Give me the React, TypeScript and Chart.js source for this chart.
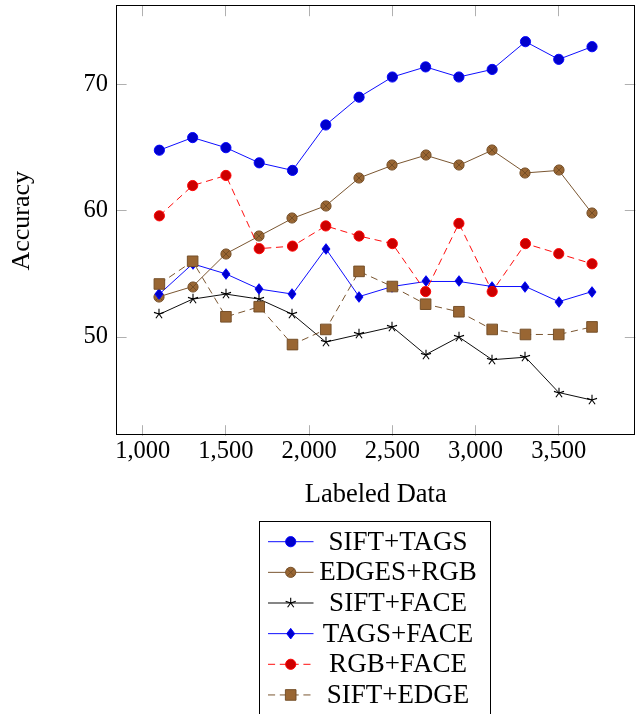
import { useEffect, useRef } from 'react';
import { Chart, registerables } from 'chart.js';

Chart.register(...registerables);

// ---- data ----
const labeledData = [1100, 1300, 1500, 1700, 1900, 2100, 2300, 2500, 2700, 2900, 3100, 3300, 3500, 3700];
const siftTags = [64.8, 65.8, 65.0, 63.8, 63.2, 66.8, 69.0, 70.6, 71.4, 70.6, 71.2, 73.4, 72.0, 73.0];
const edgesRgb = [53.2, 54.0, 56.6, 58.0, 59.4, 60.4, 62.6, 63.6, 64.4, 63.6, 64.8, 63.0, 63.2, 59.8];
const siftFace = [51.8, 53.0, 53.4, 53.0, 51.8, 49.6, 50.2, 50.8, 48.6, 50.0, 48.2, 48.4, 45.6, 45.0];
const tagsFace = [53.4, 55.8, 55.0, 53.8, 53.4, 57.0, 53.2, 54.0, 54.4, 54.4, 54.0, 54.0, 52.8, 53.6];
const rgbFace = [59.6, 62.0, 62.8, 57.0, 57.2, 58.8, 58.0, 57.4, 53.6, 59.0, 53.6, 57.4, 56.6, 55.8];
const siftEdge = [54.2, 56.0, 51.6, 52.4, 49.4, 50.6, 55.2, 54.0, 52.6, 52.0, 50.6, 50.2, 50.2, 50.8];
const seriesNames = ['SIFT+TAGS', 'EDGES+RGB', 'SIFT+FACE', 'TAGS+FACE', 'RGB+FACE', 'SIFT+EDGE'];
const seriesValues = [siftTags, edgesRgb, siftFace, tagsFace, rgbFace, siftEdge];
const xTicks = [1000, 1500, 2000, 2500, 3000, 3500];
const yTicks = [50, 60, 70];
const xTitle = 'Labeled Data';
const yTitle = 'Accuracy';

// ---- styles ----
const BLUE = '#0000ff', BLUE_F = '#0000cc';
const RED = '#ff0000', RED_F = '#cc0000';
const BROWN = '#734d26', BROWN_F = '#996633';
const BLACK = '#000000';
const DASH = [7.1, 4.7];
const LW = 0.95;

type Mk = 'circle' | 'otimes' | 'star' | 'diamond' | 'square';
interface Sty { line: string; stroke: string; fill: string; mk: Mk; dashed: boolean }
const styles: Sty[] = [
  { line: BLUE, stroke: BLUE, fill: BLUE_F, mk: 'circle', dashed: false },
  { line: BROWN, stroke: BROWN, fill: BROWN_F, mk: 'otimes', dashed: false },
  { line: BLACK, stroke: BLACK, fill: BLACK, mk: 'star', dashed: false },
  { line: BLUE, stroke: BLUE, fill: BLUE_F, mk: 'diamond', dashed: false },
  { line: RED, stroke: RED, fill: RED_F, mk: 'circle', dashed: true },
  { line: BROWN, stroke: BROWN, fill: BROWN_F, mk: 'square', dashed: true },
];

const R = 5.1;
const FONT = '"Liberation Serif", "Times New Roman", serif';

function drawMarker(ctx: CanvasRenderingContext2D, s: Sty, x: number, y: number) {
  ctx.save();
  ctx.setLineDash([]);
  ctx.lineWidth = LW;
  ctx.strokeStyle = s.stroke;
  ctx.fillStyle = s.fill;
  ctx.beginPath();
  if (s.mk === 'circle') {
    ctx.arc(x, y, R, 0, Math.PI * 2);
    ctx.fill();
    ctx.stroke();
  } else if (s.mk === 'otimes') {
    ctx.arc(x, y, R, 0, Math.PI * 2);
    ctx.fill();
    ctx.stroke();
    const d = R * Math.SQRT1_2;
    ctx.beginPath();
    ctx.moveTo(x - d, y - d);
    ctx.lineTo(x + d, y + d);
    ctx.moveTo(x - d, y + d);
    ctx.lineTo(x + d, y - d);
    ctx.stroke();
  } else if (s.mk === 'square') {
    const h = 5.3;
    ctx.rect(x - h, y - h, 2 * h, 2 * h);
    ctx.fill();
    ctx.stroke();
  } else if (s.mk === 'diamond') {
    const hh = 5.3, hw = 4.0;
    ctx.moveTo(x, y - hh);
    ctx.lineTo(x + hw, y);
    ctx.lineTo(x, y + hh);
    ctx.lineTo(x - hw, y);
    ctx.closePath();
    ctx.fill();
    ctx.stroke();
  } else if (s.mk === 'star') {
    ctx.lineWidth = 1.1;
    for (let k = 0; k < 5; k++) {
      const a = (-90 + 72 * k) * Math.PI / 180;
      ctx.moveTo(x, y);
      ctx.lineTo(x + 5.3 * Math.cos(a), y + 5.3 * Math.sin(a));
    }
    ctx.stroke();
  }
  ctx.restore();
}

function markerImage(s: Sty): HTMLCanvasElement {
  const c = document.createElement('canvas');
  c.width = 16;
  c.height = 16;
  const ctx = c.getContext('2d')!;
  drawMarker(ctx, s, 8, 8);
  return c;
}

const framePlugin = {
  id: 'pgfFrame',
  beforeDatasetsDraw(chart: any) {
    const { ctx, chartArea: a, scales } = chart;
    ctx.imageSmoothingEnabled = false;
    ctx.save();
    ctx.strokeStyle = '#b0b0b0';
    ctx.lineWidth = 1;
    ctx.beginPath();
    const tl = 10.5;
    for (const v of xTicks) {
      const px = Math.floor(scales.x.getPixelForValue(v)) + 0.5;
      ctx.moveTo(px, a.top);
      ctx.lineTo(px, a.top + tl);
      ctx.moveTo(px, a.bottom);
      ctx.lineTo(px, a.bottom - tl);
    }
    for (const v of yTicks) {
      const py = Math.floor(scales.y.getPixelForValue(v)) + 0.5;
      ctx.moveTo(a.left, py);
      ctx.lineTo(a.left + tl, py);
      ctx.moveTo(a.right, py);
      ctx.lineTo(a.right - tl, py);
    }
    ctx.stroke();
    ctx.restore();
  },
  afterDatasetsDraw(chart: any) {
    const { ctx, chartArea: a } = chart;
    ctx.imageSmoothingEnabled = true;
    ctx.save();
    ctx.strokeStyle = '#000';
    ctx.lineWidth = 1;
    const l = Math.floor(a.left) + 0.5;
    const t = Math.floor(a.top) + 0.5;
    const r = Math.floor(a.right) - 0.5;
    const b = Math.floor(a.bottom) - 0.5;
    ctx.strokeRect(l, t, r - l, b - t);
    ctx.restore();
  },
};

const legendPlugin = {
  id: 'pgfLegend',
  afterDraw(chart: any) {
    const { ctx } = chart;
    ctx.save();
    ctx.strokeStyle = '#000';
    ctx.lineWidth = 1;
    ctx.strokeRect(259.5, 521.5, 231, 260);
    seriesNames.forEach((name, i) => {
      const s = styles[i];
      const y = 541.7 + i * 30.65;
      ctx.save();
      ctx.strokeStyle = s.line;
      ctx.lineWidth = LW;
      ctx.setLineDash(s.dashed ? DASH : []);
      ctx.beginPath();
      ctx.moveTo(268, y);
      ctx.lineTo(313.5, y);
      ctx.stroke();
      ctx.restore();
      drawMarker(ctx, s, 290.7, y);
      ctx.fillStyle = '#000';
      ctx.font = `27px ${FONT}`;
      ctx.textAlign = 'center';
      ctx.textBaseline = 'middle';
      ctx.fillText(name, 398, y + 1);
    });
    ctx.restore();
  },
};

const zeroPad = (scale: any) => {
  scale.paddingTop = 0;
  scale.paddingBottom = 0;
  scale.paddingLeft = 0;
  scale.paddingRight = 0;
};

export default function App() {
  const ref = useRef<HTMLCanvasElement | null>(null);

  useEffect(() => {
    document.body.style.margin = '0';
    const canvas = ref.current!;
    const n = seriesNames.length;
    const datasets = seriesNames.map((name, i) => {
      const s = styles[i];
      const pts = labeledData.map((x, j) => ({ x, y: seriesValues[i][j] }));
      let pointStyle: any;
      let pointRadius = R;
      if (s.mk === 'circle') pointStyle = 'circle';
      else if (s.mk === 'square') { pointStyle = 'rect'; pointRadius = 5.3 * Math.SQRT2; }
      else pointStyle = markerImage(s);
      return {
        label: name,
        data: pts,
        order: n - i,
        borderColor: s.line,
        borderWidth: LW,
        borderDash: s.dashed ? DASH : [],
        fill: false,
        tension: 0,
        pointStyle,
        pointRadius,
        pointHoverRadius: pointRadius,
        pointBackgroundColor: s.fill,
        pointBorderColor: s.stroke,
        pointBorderWidth: LW,
      };
    });

    const chart = new Chart(canvas, {
      type: 'line',
      data: { datasets },
      plugins: [framePlugin, legendPlugin],
      options: {
        animation: false,
        responsive: false,
        events: [],
        layout: { autoPadding: false, padding: { top: 5.7, right: 0.7, left: 0, bottom: 0 } },
        plugins: { legend: { display: false }, tooltip: { enabled: false }, title: { display: false } },
        scales: {
          x: {
            type: 'linear',
            min: 840,
            max: 3960,
            grid: { display: false, drawTicks: false },
            border: { display: false },
            afterBuildTicks: (scale: any) => { scale.ticks = xTicks.map((v) => ({ value: v })); },
            afterFit: (scale: any) => { scale.height = 714 - 435.7; zeroPad(scale); },
            ticks: {
              autoSkip: false,
              maxRotation: 0,
              padding: 4,
              color: '#000',
              font: { family: FONT, size: 24.5, lineHeight: 1 },
              callback: (v: any) => Number(v).toLocaleString('en-US'),
            },
            title: {
              display: true,
              text: xTitle,
              color: '#000',
              font: { family: FONT, size: 26.5, lineHeight: 1 },
              padding: { top: 0, bottom: 206 },
            },
          },
          y: {
            type: 'linear',
            min: 42.18,
            max: 76.25,
            grid: { display: false, drawTicks: false },
            border: { display: false },
            afterBuildTicks: (scale: any) => { scale.ticks = yTicks.map((v) => ({ value: v })); },
            afterFit: (scale: any) => { scale.width = 116.1; zeroPad(scale); },
            ticks: {
              autoSkip: false,
              padding: 8,
              color: '#000',
              font: { family: FONT, size: 24.5, lineHeight: 1 },
              callback: (v: any) => String(v),
            },
            title: {
              display: true,
              text: yTitle,
              color: '#000',
              font: { family: FONT, size: 26, lineHeight: 1 },
              padding: { top: 9, bottom: 0 },
            },
          },
        },
      } as any,
    });
    return () => chart.destroy();
  }, []);

  return <canvas ref={ref} width={636} height={714} style={{ display: 'block', width: 636, height: 714 }} />;
}
